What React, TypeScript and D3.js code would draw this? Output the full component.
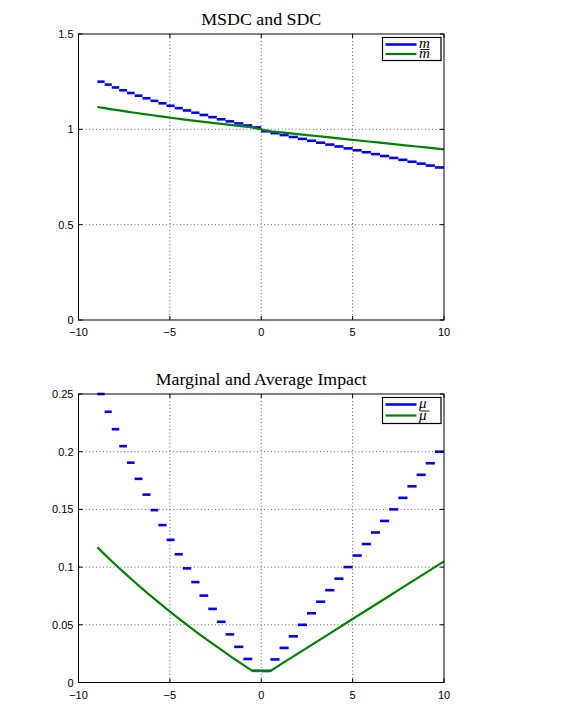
import React from 'react';
import * as d3 from 'd3';

// step boundaries (x)
const LEFT_EDGES = [0, -0.49, -0.98, -1.48, -1.95, -2.43, -2.9, -3.38, -3.83, -4.29, -4.74, -5.18, -5.63, -6.06, -6.5, -6.93, -7.35, -7.77, -8.18, -8.57, -8.97];
const RIGHT_EDGES = [0, 0.5, 1, 1.5, 2, 2.5, 3, 3.5, 4, 4.5, 5, 5.5, 6, 6.5, 7, 7.5, 8, 8.5, 9, 9.5, 10];

// MSDC steps (m)
const M_LEFT = [1.0101, 1.0204, 1.0309, 1.0417, 1.0526, 1.0638, 1.0753, 1.087, 1.0989, 1.1111, 1.1236, 1.1364, 1.1494, 1.1628, 1.1765, 1.1905, 1.2048, 1.2195, 1.2346, 1.25];
const M_RIGHT = [0.99, 0.98, 0.97, 0.96, 0.95, 0.94, 0.93, 0.92, 0.91, 0.9, 0.89, 0.88, 0.87, 0.86, 0.85, 0.84, 0.83, 0.82, 0.81, 0.8];

// marginal impact steps (mu)
const MU_LEFT = [0.0101, 0.0204, 0.0309, 0.0417, 0.0526, 0.0638, 0.0753, 0.087, 0.0989, 0.1111, 0.1236, 0.1364, 0.1494, 0.1628, 0.1765, 0.1905, 0.2048, 0.2195, 0.2346, 0.25];
const MU_RIGHT = [0.01, 0.02, 0.03, 0.04, 0.05, 0.06, 0.07, 0.08, 0.09, 0.1, 0.11, 0.12, 0.13, 0.14, 0.15, 0.16, 0.17, 0.18, 0.19, 0.2];

// averages (green curves)
const AVG_X = [-8.97, -8.57, -8.18, -7.77, -7.35, -6.93, -6.5, -6.06, -5.63, -5.18, -4.74, -4.29, -3.83, -3.38, -2.9, -2.43, -1.95, -1.48, -0.98, -0.49,
  0.5, 1, 1.5, 2, 2.5, 3, 3.5, 4, 4.5, 5, 5.5, 6, 6.5, 7, 7.5, 8, 8.5, 9, 9.5, 10];
const M_AVG = [1.1172, 1.111, 1.1051, 1.099, 1.093, 1.0871, 1.0812, 1.0752, 1.0696, 1.0638, 1.0582, 1.0527, 1.0471, 1.0418, 1.0363, 1.031, 1.0256, 1.0205, 1.0153, 1.0101,
  0.99, 0.985, 0.98, 0.975, 0.97, 0.965, 0.96, 0.955, 0.95, 0.945, 0.94, 0.935, 0.93, 0.925, 0.92, 0.915, 0.91, 0.905, 0.9, 0.895];
const MU_AVG = [0.1172, 0.111, 0.1051, 0.099, 0.093, 0.0871, 0.0812, 0.0752, 0.0696, 0.0638, 0.0582, 0.0527, 0.0471, 0.0418, 0.0363, 0.031, 0.0256, 0.0205, 0.0153, 0.0101,
  0.01, 0.015, 0.02, 0.025, 0.03, 0.035, 0.04, 0.045, 0.05, 0.055, 0.06, 0.065, 0.07, 0.075, 0.08, 0.085, 0.09, 0.095, 0.1, 0.105];

const X_TICKS = [-10, -5, 0, 5, 10];
const TOP_Y_TICKS = [0, 0.5, 1, 1.5];
const BOT_Y_TICKS = [0, 0.05, 0.1, 0.15, 0.2, 0.25];

const BLUE = '#0000ff';
const GREEN = '#008000';
const SANS = '"Liberation Sans", Arial, Helvetica, sans-serif';
const SERIF = '"Liberation Serif", "Times New Roman", serif';

const fmt = (v: number) => (v < 0 ? '\u2212' + String(-v) : String(v));

interface PanelProps {
  top: number;
  bottom: number;
  yMax: number;
  yTicks: number[];
  title: string;
  titleLen: number;
  left: number[];
  right: number[];
  avg: number[];
  sym: string;
  legendH: number;
  rowGap: number;
}

const Panel: React.FC<PanelProps> = ({ top, bottom, yMax, yTicks, title, titleLen, left, right, avg, sym, legendH, rowGap }) => {
  const x = d3.scaleLinear().domain([-10, 10]).range([78.5, 444]);
  const y = d3.scaleLinear().domain([0, yMax]).range([bottom, top]);
  const x0 = x(-10), x1 = x(10);

  const line = d3.line<number>().x((_, i) => x(AVG_X[i])).y((d) => y(d));

  const steps: { a: number; b: number; v: number }[] = [];
  left.forEach((v, i) => steps.push({ a: LEFT_EDGES[i + 1], b: LEFT_EDGES[i], v }));
  right.forEach((v, i) => steps.push({ a: RIGHT_EDGES[i], b: RIGHT_EDGES[i + 1], v }));

  const lx = 382.5, ly = top + 3.5, lw = 58.5;
  const r1 = ly + 7, r2 = r1 + rowGap;

  return (
    <g>
      <text x={(x0 + x1) / 2} y={top - 9.5} textAnchor="middle" fontFamily={SERIF} fontSize={17}
        textLength={titleLen} lengthAdjust="spacingAndGlyphs">{title}</text>

      {/* grid */}
      {X_TICKS.slice(1, -1).map((t) => (
        <line key={'gx' + t} x1={x(t)} x2={x(t)} y1={top} y2={bottom} stroke="#555" strokeWidth={0.9} strokeDasharray="1 2.5" />
      ))}
      {yTicks.slice(1, -1).map((t) => (
        <line key={'gy' + t} x1={x0} x2={x1} y1={y(t)} y2={y(t)} stroke="#555" strokeWidth={0.9} strokeDasharray="1 2.5" />
      ))}

      {/* data */}
      {steps.map((s, i) => (
        <line key={'s' + i} x1={x(s.a)} x2={x(s.b)} y1={y(s.v)} y2={y(s.v)} stroke={BLUE} strokeWidth={2.6} />
      ))}
      <path d={line(avg) ?? ''} fill="none" stroke={GREEN} strokeWidth={2.2} strokeLinejoin="round" />

      {/* frame + ticks */}
      <rect x={x0} y={top} width={x1 - x0} height={bottom - top} fill="none" stroke="#000" strokeWidth={1} />
      {X_TICKS.map((t) => (
        <g key={'tx' + t}>
          <line x1={x(t)} x2={x(t)} y1={bottom} y2={bottom - 4} stroke="#000" />
          <line x1={x(t)} x2={x(t)} y1={top} y2={top + 4} stroke="#000" />
          <text x={x(t)} y={bottom + 16} textAnchor="middle" fontFamily={SANS} fontSize={11}>{fmt(t)}</text>
        </g>
      ))}
      {yTicks.map((t) => (
        <g key={'ty' + t}>
          <line x1={x0} x2={x0 + 4} y1={y(t)} y2={y(t)} stroke="#000" />
          <line x1={x1} x2={x1 - 4} y1={y(t)} y2={y(t)} stroke="#000" />
          <text x={x0 - 5} y={y(t) + 4} textAnchor="end" fontFamily={SANS} fontSize={11}>{fmt(t)}</text>
        </g>
      ))}

      {/* legend */}
      <rect x={lx} y={ly} width={lw} height={legendH} fill="#fff" stroke="#000" strokeWidth={1.2} />
      <line x1={lx + 3} x2={lx + 34} y1={r1} y2={r1} stroke={BLUE} strokeWidth={2.6} />
      <line x1={lx + 3} x2={lx + 34} y1={r2} y2={r2} stroke={GREEN} strokeWidth={2.2} />
      <text fontFamily={SERIF} fontStyle="italic" fontSize={15}>
        <tspan x={lx + 36.5} y={r1 + 3.5}>{sym}</tspan>
        <tspan x={lx + 36.5} y={r2 + 4}>{sym}</tspan>
      </text>
      <line x1={lx + 38} x2={lx + 47} y1={r2 - 4.5} y2={r2 - 4.5} stroke="#000" strokeWidth={0.9} />
    </g>
  );
};

export default function App() {
  return (
    <svg width={572} height={725} viewBox="0 0 572 725"
      style={{ position: 'absolute', left: 0, top: 0, background: '#fff', display: 'block' }}>
      <rect width={572} height={725} fill="#fff" />
      <Panel top={34} bottom={320} yMax={1.5} yTicks={TOP_Y_TICKS} title="MSDC and SDC" titleLen={120}
        left={M_LEFT} right={M_RIGHT} avg={M_AVG} sym="m" legendH={23} rowGap={9.5} />
      <Panel top={394} bottom={682.5} yMax={0.25} yTicks={BOT_Y_TICKS} title="Marginal and Average Impact" titleLen={211}
        left={MU_LEFT} right={MU_RIGHT} avg={MU_AVG} sym={'\u03bc'} legendH={26} rowGap={11} />
    </svg>
  );
}
